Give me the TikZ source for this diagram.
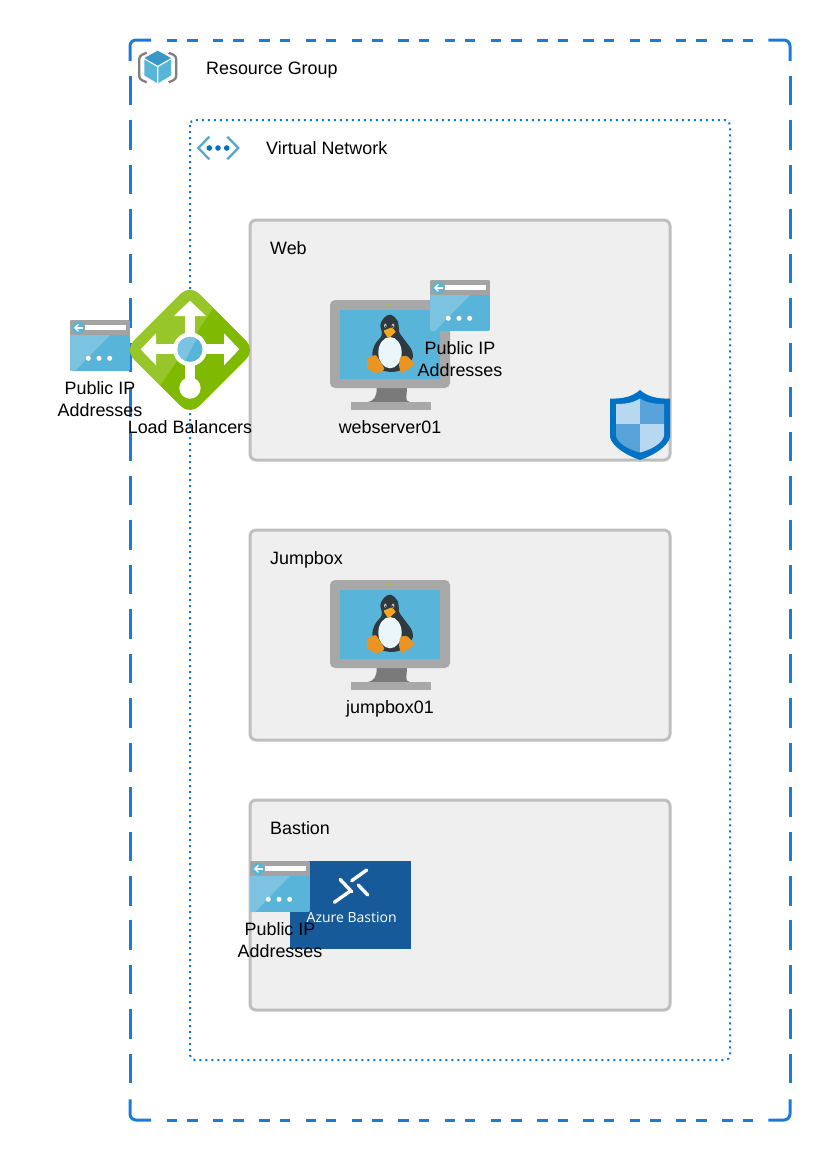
\documentclass[tikz,border=0pt]{standalone}
\usepackage{fontspec}
\setmainfont{Liberation Sans}
\newfontfamily\azfont{Open Sans}
\definecolor{rgblue}{HTML}{1B7BDB}
\definecolor{vnblue}{HTML}{0A78D8}
\definecolor{azlight}{HTML}{59B4D9}
\definecolor{azpale}{HTML}{7CC3E1}
\definecolor{azmid}{HTML}{3999C6}
\definecolor{hdgray}{HTML}{A3A3A3}
\definecolor{mongray}{HTML}{A8A8A8}
\definecolor{standgray}{HTML}{7A7A7A}
\definecolor{subnetfill}{HTML}{EFEFEF}
\definecolor{subnetline}{HTML}{BFBFBF}
\definecolor{lbdark}{HTML}{7FB900}
\definecolor{lblight}{HTML}{97C62A}
\definecolor{peng}{HTML}{2F3A40}
\definecolor{pengfoot}{HTML}{EA9422}
\definecolor{pengbeak}{HTML}{F5A623}
\definecolor{bastionblue}{HTML}{175A9A}
\definecolor{shielddark}{HTML}{0072C6}
\definecolor{shieldpale}{HTML}{B7D8EF}
\definecolor{shieldmid}{HTML}{59A3DB}
\definecolor{brackgray}{HTML}{7F7F7F}
\tikzset{
  lbl/.style={font=\fontsize{17.9}{22}\selectfont,text=black,inner sep=0pt,align=center},
  lblbase/.style={lbl,anchor=base},
  lblleft/.style={lbl,anchor=base west},
  rgline/.style={draw=rgblue,line width=3pt},
  rgh/.style={rgline,dash pattern=on 10.4pt off 10pt on 10.4pt off 15.5pt},
  rgv/.style={rgline,dash pattern=on 29.5pt off 14.95pt},
  vnline/.style={draw=vnblue,line width=2pt,dash pattern=on 2pt off 4pt,rounded corners=5pt},
  subnet/.style={draw=subnetline,fill=subnetfill,line width=3pt,rounded corners=6pt},
  pics/ipicon/.style={code={
    \begin{scope}
      \clip[rounded corners=2pt] (0,0) rectangle (60,51);
      \fill[azlight] (0,0) rectangle (60,51);
      \fill[hdgray] (0,0) rectangle (60,15);
      \fill[azpale] (0,15) -- (40,15) -- (5,51) -- (0,51) -- cycle;
    \end{scope}
    \fill[white] (15,5.3) rectangle (56,10);
    \fill[azlight] (8.3,7.8) circle (6.2);
    \draw[white,line width=1.5pt] (5,7.8) -- (12.5,7.8);
    \draw[white,line width=1.3pt] (8.4,4.3) -- (4.8,7.8) -- (8.4,11.3);
    \foreach \dx in {18.3,29,39.7} \fill[white] (\dx,38.3) circle (2.5);
  }},
  pics/vmicon/.style={code={
    \fill[standgray] (46.7,88) .. controls (47,96) and (44,101) .. (38,102) -- (80,102) .. controls (74,101) and (77,96) .. (77,88) -- cycle;
    \fill[mongray] (21,102) rectangle (101,110);
    \fill[mongray,rounded corners=5pt] (0,0) rectangle (120,88);
    \fill[azlight] (10,10) rectangle (110,79);
    \fill[lbdark!70!yellow] (59.3,4.7) circle (1.2);
    \begin{scope}[shift={(30,10)},scale=0.3333]
      \fill[peng] plot[smooth cycle,tension=0.7] coordinates {(88,14) (62,40) (65,75) (44,105) (38,140) (58,172) (78,184) (118,182) (152,155) (157,125) (134,90) (117,65) (114,35)};
      \fill[white!88!azlight] (90,128) ellipse (35 and 47);
      \fill[white!70!peng] (76,47) ellipse (4 and 6);
      \fill[white!70!peng] (99,47) ellipse (4 and 6);
      \fill[peng] (77,49) circle (2.5);
      \fill[peng] (98,49) circle (2.5);
      \fill[pengbeak,rounded corners=1pt] (70,62) -- (95,52) -- (108,65) -- (85,86) -- cycle;
      \fill[pengfoot,rounded corners=1.3pt] (20,145) -- (48,134) -- (75,178) -- (50,191) -- (22,176) -- cycle;
      \fill[pengfoot,rounded corners=1.3pt] (120,140) -- (140,137) -- (166,162) -- (125,191) -- (117,170) -- cycle;
    \end{scope}
  }},
  pics/lbicon/.style={code={
    \fill[lbdark,rounded corners=13pt] (0,-65.4) -- (65.4,0) -- (0,65.4) -- (-65.4,0) -- cycle;
    \begin{scope}
      \clip[rounded corners=13pt] (0,-65.4) -- (65.4,0) -- (0,65.4) -- (-65.4,0) -- cycle;
      \fill[lblight] (-70,-70) -- (32,-70) -- (22.3,-40.3) -- (-29,34.3) -- (-45,60) -- (-70,60) -- cycle;
    \end{scope}
    \fill[white] (0,-0.7) circle (17);
    \fill[white] (0,38) circle (10.7);
    \fill[white] (-5,-35) rectangle (5,38);
    \fill[white] (0,-49.3) -- (16,-34) -- (-16,-34) -- cycle;
    \fill[white] (-35,-5.7) rectangle (35,4.3);
    \fill[white] (-49.3,-0.7) -- (-34,-16.7) -- (-34,15.3) -- cycle;
    \fill[white] (49.3,-0.7) -- (34,-16.7) -- (34,15.3) -- cycle;
    \fill[azlight] (0,-0.7) circle (12.5);
    \begin{scope}
      \clip (0,-0.7) circle (12.5);
      \fill[azpale] (-13,-14) -- (8,-14) -- (-6,13) -- (-13,13) -- cycle;
    \end{scope}
  }}
}
\begin{document}
\begin{tikzpicture}[x=1pt,y=-1pt]
\useasboundingbox (0,0) rectangle (830,1160);
\fill[white] (0,0) rectangle (830,1160);

% Resource group frame
\coordinate (rgTL) at (130,40);
\coordinate (rgTR) at (790,40);
\coordinate (rgBL) at (130,1120);
\coordinate (rgBR) at (790,1120);
\draw[rgline,rounded corners=6pt] (130,61) -- (rgTL) -- (151,40);
\draw[rgline,rounded corners=6pt] (768.3,40) -- (rgTR) -- (790,61);
\draw[rgline,rounded corners=6pt] (130,1099.3) -- (rgBL) -- (151,1120);
\draw[rgline,rounded corners=6pt] (768.3,1120) -- (rgBR) -- (790,1099.3);
\draw[rgh] (166.7,40) -- (753,40);
\draw[rgh] (166.7,1120) -- (753,1120);
\draw[rgv] (130,75.9) -- (130,1083.5);
\draw[rgv] (790,75.9) -- (790,1083.5);

% Virtual network frame
\draw[vnline] (190,120) rectangle (730,1060);

% Subnets
\draw[subnet] (250,220) rectangle (670,460);
\draw[subnet] (250,530) rectangle (670,740);
\draw[subnet] (250,800) rectangle (670,1010);

% Resource group icon
\draw[draw=brackgray,line width=2.3pt,rounded corners=3pt] (146.7,52.7) -- (139.2,56) -- (139.2,79) -- (146.7,82.3);
\draw[draw=brackgray,line width=2.3pt,rounded corners=3pt] (168.7,52.7) -- (176.2,56) -- (176.2,79) -- (168.7,82.3);
\fill[azmid] (157.7,50.7) -- (171,58) -- (157.7,65.6) -- (144.4,58) -- cycle;
\fill[azlight] (144.4,59.6) -- (157,66.9) -- (157,82.9) -- (144.4,75.5) -- cycle;
\fill[azlight] (171,59.6) -- (158.4,66.9) -- (158.4,82.9) -- (171,75.5) -- cycle;

% Virtual network icon
\draw[draw=azmid!85!white,line width=2.3pt] (209.3,136.7) -- (198.3,148) -- (209.3,159.3);
\draw[draw=azmid!85!white,line width=2.3pt] (227.3,136.7) -- (238.3,148) -- (227.3,159.3);
\foreach \cx in {209.3,218,226.7} \fill[shielddark] (\cx,148) circle (2.8);

% Icons
\pic (vmWeb) at (330,300) {vmicon};
\pic (vmJump) at (330,580) {vmicon};
\pic (lb) at (190,350) {lbicon};
\pic (ipLb) at (70,320) {ipicon};
\pic (ipWeb) at (430,280) {ipicon};

% Shield
\fill[shielddark] (640,390) .. controls (632,397) and (622,399) .. (610,398.5) -- (610,437) .. controls (612,447) and (628,456) .. (640,460) .. controls (652,456) and (668,447) .. (670,437) -- (670,398.5) .. controls (658,399) and (648,397) .. (640,390) -- cycle;
\fill[shieldpale] (640,398.5) .. controls (633,403) and (625,404) .. (616,404) -- (616,424) -- (640,424) -- cycle;
\fill[shieldmid] (640,398.5) .. controls (647,403) and (655,404) .. (664,404) -- (664,424) -- (640,424) -- cycle;
\fill[shieldmid] (616,424) -- (616,436) .. controls (618,444) and (630,450) .. (640,452.5) -- (640,424) -- cycle;
\fill[shieldpale] (664,424) -- (664,436) .. controls (662,444) and (650,450) .. (640,452.5) -- (640,424) -- cycle;

% Azure Bastion
\fill[bastionblue] (290,861) rectangle (411,948.7);
\draw[white,line width=3.4pt,line cap=round] (340,879.3) -- (351.7,891.7);
\draw[white,line width=3.4pt,line cap=round] (366.7,870) -- (351.7,880.7);
\draw[white,line width=3.4pt,line cap=round] (358.3,885) -- (367.7,895);
\draw[white,line width=3.4pt,line cap=round] (349.3,891.7) -- (334.3,902.3);
\node[inner sep=0pt,text=white,font=\azfont\fontsize{14}{17}\selectfont] (bastionText) at (351.7,917) {Azure Bastion};
\pic (ipBastion) at (250,861) {ipicon};

% Labels
\node[lblleft] (rgLabel) at (206,74) {Resource Group};
\node[lblleft] (vnLabel) at (266,154) {Virtual Network};
\node[lblleft] (webLabel) at (270,254) {Web};
\node[lblleft] (jumpLabel) at (270,564) {Jumpbox};
\node[lblleft] (bastionLabel) at (270,834) {Bastion};
\node[lbl] (ipLbLabel) at (100,399) {Public IP\\Addresses};
\node[lblbase] (lbLabel) at (190,433) {Load Balancers};
\node[lbl] (ipWebLabel) at (460,359) {Public IP\\Addresses};
\node[lblbase] (webVmLabel) at (390,433) {webserver01};
\node[lblbase] (jumpVmLabel) at (390,713) {jumpbox01};
\node[lbl] (ipBastionLabel) at (280,940) {Public IP\\Addresses};
\end{tikzpicture}
\end{document}
